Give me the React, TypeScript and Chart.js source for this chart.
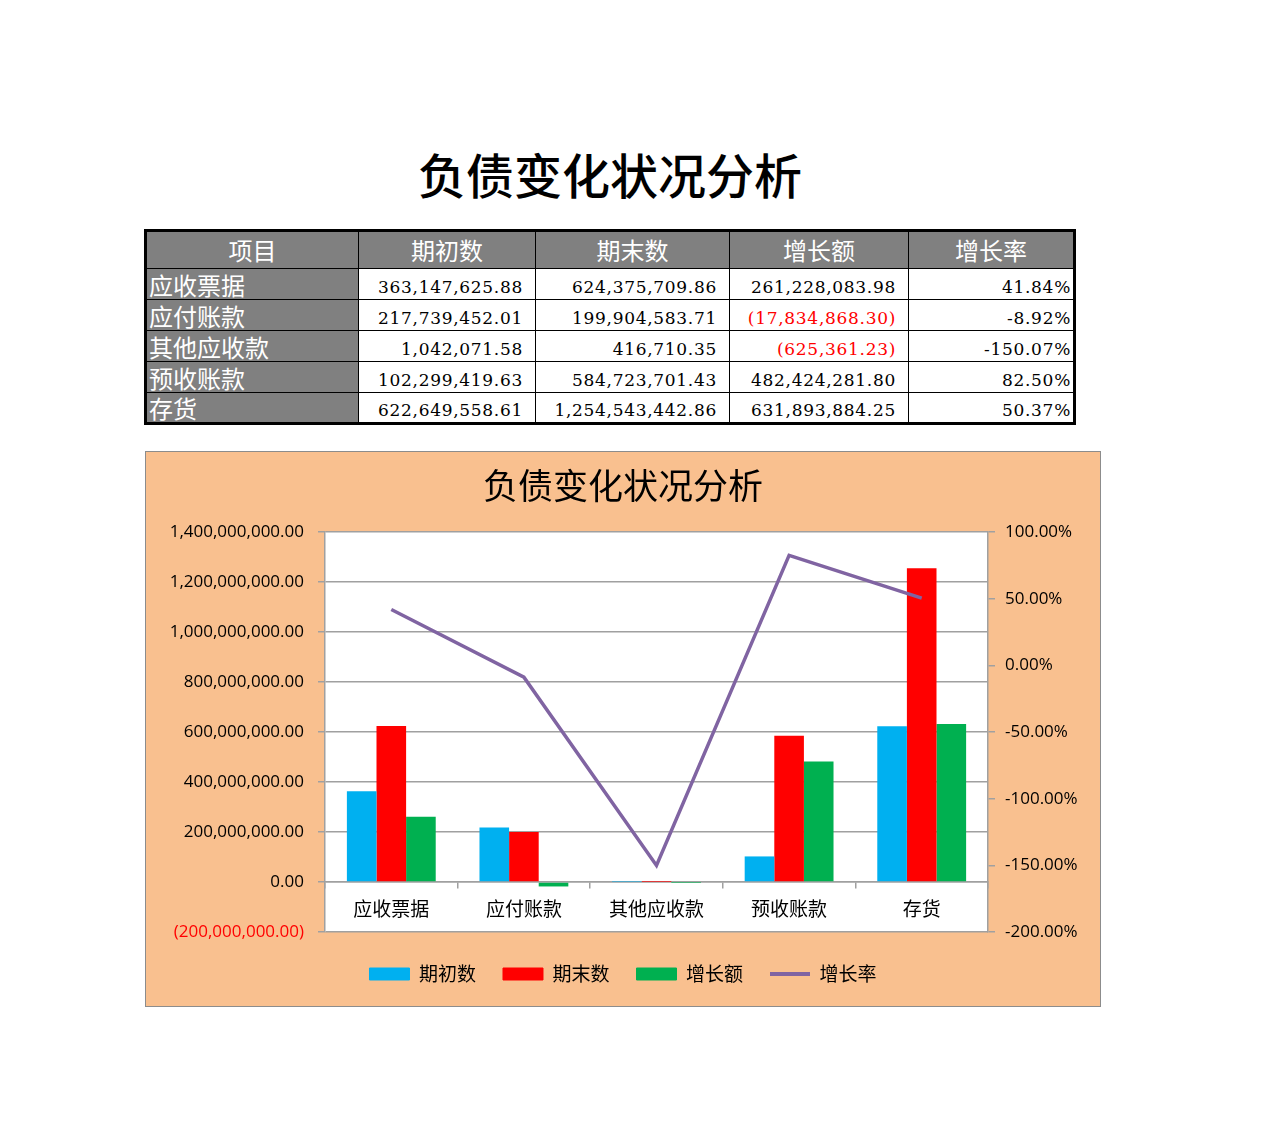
import React, { useEffect, useRef } from "react";
import { Chart, registerables } from "chart.js";

Chart.register(...registerables);

const title = "负债变化状况分析";
const headers = ["项目", "期初数", "期末数", "增长额", "增长率"];
const categories = ["应收票据", "应付账款", "其他应收款", "预收账款", "存货"];
const beginValues = [363147625.88, 217739452.01, 1042071.58, 102299419.63, 622649558.61];
const endValues = [624375709.86, 199904583.71, 416710.35, 584723701.43, 1254543442.86];
const growthValues = [261228083.98, -17834868.3, -625361.23, 482424281.8, 631893884.25];
const growthRates = [41.84, -8.92, -150.07, 82.5, 50.37];

const seriesNames = ["期初数", "期末数", "增长额", "增长率"];
const colors = ["#00B0F0", "#FF0000", "#00B050", "#8064A2"];

const gridGray = "#A0A0A0";
const peach = "#F9C08F";
const cjk = "'Noto Sans CJK SC'";
const tickFont = "'Open Sans', 'Noto Sans CJK SC', sans-serif";

const fmtMoney = (v: number) => {
  const s = Math.abs(v).toLocaleString("en-US", { minimumFractionDigits: 2, maximumFractionDigits: 2 });
  return v < 0 ? `(${s})` : s;
};

const plotBackground = {
  id: "plotBackground",
  beforeDraw(chart: Chart) {
    const { ctx, chartArea } = chart;
    ctx.save();
    ctx.fillStyle = "#FFFFFF";
    ctx.fillRect(chartArea.left, chartArea.top, chartArea.right - chartArea.left, chartArea.bottom - chartArea.top);
    ctx.restore();
  },
};

const ComboChart = () => {
  const chartRef = useRef<HTMLCanvasElement | null>(null);
  useEffect(() => {
    let chartInstance: Chart | null = null;
    if (chartRef.current) {
      const context = chartRef.current.getContext("2d");
      if (context) {
        chartInstance = new Chart(context, {
          type: "bar",
          data: {
            labels: categories,
            datasets: [
              { type: "bar", label: seriesNames[0], data: beginValues, backgroundColor: colors[0], yAxisID: "y", order: 1 },
              { type: "bar", label: seriesNames[1], data: endValues, backgroundColor: colors[1], yAxisID: "y", order: 1 },
              { type: "bar", label: seriesNames[2], data: growthValues, backgroundColor: colors[2], yAxisID: "y", order: 1 },
              {
                type: "line",
                label: seriesNames[3],
                data: growthRates,
                borderColor: colors[3],
                backgroundColor: colors[3],
                borderWidth: 3.5,
                pointRadius: 0,
                tension: 0,
                yAxisID: "y1",
                order: 0,
              } as any,
            ],
          },
          options: {
            responsive: false,
            animation: false,
            layout: { padding: { bottom: 12.5 } },
            datasets: { bar: { categoryPercentage: 0.67, barPercentage: 1 } },
            plugins: {
              title: {
                display: true,
                text: title,
                color: "#000",
                font: { family: cjk, size: 35, weight: "normal", lineHeight: 1.2 },
                padding: { top: 13, bottom: 25 },
              },
              legend: {
                position: "bottom",
                // empty title only adds a little height above the items
                title: { display: true, text: "", font: { size: 5.5, lineHeight: 1 }, padding: 0 },
                labels: {
                  color: "#000",
                  font: { family: cjk, size: 19 },
                  padding: 27,
                  usePointStyle: true,
                  pointStyleWidth: 40,
                  boxHeight: 12,
                  sort: (a: any, b: any) => a.datasetIndex - b.datasetIndex,
                  generateLabels: (chart: Chart) =>
                    Chart.defaults.plugins.legend.labels.generateLabels(chart).map((item: any) => ({
                      ...item,
                      pointStyle: item.datasetIndex === 3 ? "line" : "rect",
                      lineWidth: item.datasetIndex === 3 ? 4 : 1,
                      strokeStyle: colors[item.datasetIndex],
                      fillStyle: colors[item.datasetIndex],
                    })),
                },
              },
              tooltip: { enabled: false },
            },
            scales: {
              x: {
                position: { y: 0 } as any,
                offset: true,
                grid: { offset: true, drawOnChartArea: false, drawTicks: true, tickLength: 6, color: gridGray, lineWidth: 1.5 },
                border: { display: true, color: gridGray, width: 1.5 },
                ticks: { color: "#000", font: { family: cjk, size: 19 }, padding: 9 },
              },
              y: {
                position: "left",
                min: -200000000,
                max: 1400000000,
                afterFit: (scale: any) => {
                  scale.width = 179;
                },
                grid: { color: gridGray, lineWidth: 1.5, tickLength: 7 },
                border: { display: true, color: gridGray, width: 1.5 },
                ticks: {
                  stepSize: 200000000,
                  padding: 14,
                  font: { family: tickFont, size: 17 },
                  color: (c: any) => (c.tick && c.tick.value < 0 ? "#FF0000" : "#000000"),
                  callback: (v: any) => fmtMoney(Number(v)),
                },
              },
              y1: {
                position: "right",
                min: -200,
                max: 100,
                afterFit: (scale: any) => {
                  scale.width = 112;
                },
                grid: { drawOnChartArea: false, color: gridGray, lineWidth: 1.5, tickLength: 7 },
                border: { display: true, color: gridGray, width: 1.5 },
                ticks: {
                  stepSize: 50,
                  padding: 10,
                  color: "#000",
                  font: { family: tickFont, size: 17 },
                  callback: (v: any) => `${Number(v).toFixed(2)}%`,
                },
              },
            },
          },
          plugins: [plotBackground],
        });
      }
    }
    return () => {
      if (chartInstance) {
        chartInstance.destroy();
      }
    };
  }, []);

  return <canvas ref={chartRef} width={954} height={554} style={{ display: "block" }} />;
};

const cellBorder = "1px solid #000";
const colWidths = [213, 177, 194, 179, 166];

const numCell = (color: string, padRight: number): React.CSSProperties => ({
  textAlign: "right",
  fontFamily: "'DejaVu Serif', serif",
  fontSize: 17,
  letterSpacing: 0.7,
  color,
  border: cellBorder,
  padding: `0 ${padRight}px 0 0`,
  lineHeight: "24px",
  verticalAlign: "bottom",
  whiteSpace: "nowrap",
});

const DataTable = () => {
  const rows = categories.map((c, i) => [c, beginValues[i], endValues[i], growthValues[i], growthRates[i]]);
  return (
    <table
      style={{
        position: "absolute",
        left: 136,
        top: 221,
        width: 932,
        borderCollapse: "collapse",
        tableLayout: "fixed",
        border: "3px solid #000",
      }}
    >
      <colgroup>
        {colWidths.map((w, i) => (
          <col key={i} style={{ width: w }} />
        ))}
      </colgroup>
      <thead>
        <tr style={{ height: 38 }}>
          {headers.map((h) => (
            <th
              key={h}
              style={{
                background: "#808080",
                color: "#fff",
                fontFamily: cjk,
                fontWeight: 400,
                fontSize: 24,
                border: cellBorder,
                padding: 0,
                lineHeight: "36px",
              }}
            >
              {h}
            </th>
          ))}
        </tr>
      </thead>
      <tbody>
        {rows.map((r, i) => (
          <tr key={i} style={{ height: 31 }}>
            <td
              style={{
                background: "#808080",
                color: "#fff",
                fontFamily: cjk,
                fontSize: 24,
                border: cellBorder,
                padding: "0 0 0 2px",
                lineHeight: "29px",
                verticalAlign: "middle",
              }}
            >
              {r[0]}
            </td>
            {[r[1], r[2], r[3]].map((v, j) => (
              <td key={j} style={numCell(Number(v) < 0 ? "#FF0000" : "#000", 12)}>
                {fmtMoney(Number(v))}
              </td>
            ))}
            <td style={numCell("#000", 2)}>{`${Number(r[4]).toFixed(2)}%`}</td>
          </tr>
        ))}
      </tbody>
    </table>
  );
};

export default function App() {
  return (
    <div style={{ position: "relative", width: 1264, height: 1112 }}>
      <div
        style={{
          position: "absolute",
          left: 136,
          top: 135,
          width: 932,
          textAlign: "center",
          fontFamily: cjk,
          fontWeight: 500,
          fontSize: 48,
          lineHeight: "60px",
          color: "#000",
        }}
      >
        {title}
      </div>
      <DataTable />
      <div
        style={{
          position: "absolute",
          left: 137,
          top: 443,
          width: 956,
          height: 556,
          boxSizing: "border-box",
          border: "1px solid #8C8C8C",
          background: peach,
        }}
      >
        <ComboChart />
      </div>
    </div>
  );
}
